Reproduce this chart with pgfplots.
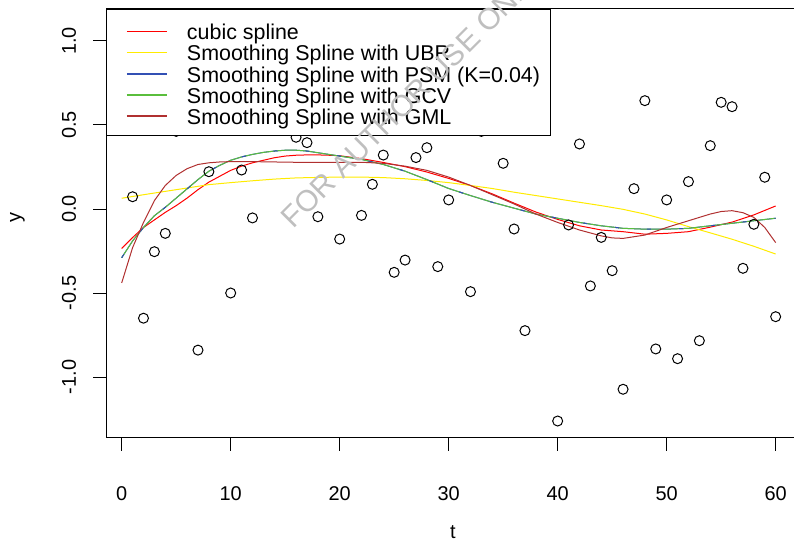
\documentclass[border=0pt]{standalone}
\usepackage{fontspec}
\setmainfont{Liberation Sans}
\usepackage{pgfplots}
\pgfplotsset{compat=1.18}
\definecolor{cgreen}{RGB}{90,190,60}
\definecolor{cblue}{RGB}{50,80,180}
\definecolor{cdred}{RGB}{176,48,48}
\definecolor{cyel}{RGB}{255,235,0}
\newcommand{\legline}[1]{\hspace*{10bp}\textcolor{#1}{\rule[7.5bp]{40bp}{1.6bp}}\hspace*{20bp}}
\begin{document}
\begin{tikzpicture}
\begin{axis}[
  scale only axis,
  width=700bp, height=428.7bp,
  xmin=-1.394, xmax=62.83,
  ymin=-1.3613, ymax=1.1905,
  axis line style={line width=1bp, black},
  tick align=outside,
  xtick pos=bottom, ytick pos=left,
  major tick length=13bp,
  tick style={line width=1bp, black},
  xtick={0,10,20,30,40,50,60},
  ytick={-1,-0.5,0,0.5,1},
  yticklabels={{-1.0},{-0.5},{0.0},{0.5},{1.0}},
  /pgf/number format/assume math mode=true,
  tick label style={font=\fontsize{20}{20}\selectfont},
  xticklabel style={yshift=-32bp},
  yticklabel style={rotate=90, anchor=south, yshift=14bp},
  xlabel={t},
  ylabel={y},
  label style={font=\fontsize{20}{20}\selectfont},
  xlabel style={at={(rel axis cs:0.495,0)}, anchor=center, yshift=-94.3bp},
  ylabel style={at={(rel axis cs:0,0.5125)}, anchor=center, rotate=0, yshift=89bp},
  legend cell align=left,
  legend image code/.code={},
  legend style={draw=black, fill=white, line width=1bp, at={(rel axis cs:0,1)}, anchor=north west,
    inner xsep=10bp, inner ysep=10bp, row sep=0pt, column sep=0pt,
    font=\fontsize{21.5}{21.5}\selectfont,
    nodes={inner sep=0pt, text height=20.3bp, text depth=0.9bp}},
]
% data points
\addplot[only marks, mark=o, mark size=5bp, mark options={line width=1bp, black}, forget plot] coordinates {
(1,0.073) (2,-0.65) (3,-0.254) (4,-0.145) (5,0.462) (7,-0.84) (8,0.222) (10,-0.50) (11,0.232) (12,-0.053)
(16,0.427) (17,0.395) (18,-0.046) (20,-0.179) (22,-0.038) (23,0.147) (24,0.321) (25,-0.377) (26,-0.304)
(27,0.306) (28,0.365) (29,-0.343) (30,0.054) (32,-0.492) (33,0.462) (35,0.272) (36,-0.119) (37,-0.724)
(40,-1.262) (41,-0.095) (42,0.387) (43,-0.458) (44,-0.169) (45,-0.367) (46,-1.073) (47,0.121) (48,0.645)
(49,-0.833) (50,0.054) (51,-0.891) (52,0.163) (53,-0.784) (54,0.377) (55,0.635) (56,0.609) (57,-0.353)
(58,-0.091) (59,0.189) (60,-0.641)
};
% cubic spline
\addplot[red, line width=1bp] coordinates {
(0,-0.235) (1,-0.17) (2,-0.11) (3,-0.065) (4,-0.02) (5,0.02) (6,0.065) (7,0.115) (8,0.16) (9,0.195)
(10,0.23) (11,0.255) (12,0.275) (13,0.29) (14,0.305) (15,0.315) (16,0.32) (17,0.322) (18,0.322) (19,0.32)
(20,0.317) (22,0.30) (24,0.277) (26,0.252) (28,0.22) (30,0.182) (32,0.14) (34,0.09) (36,0.035) (38,-0.018)
(40,-0.062) (42,-0.1) (44,-0.125) (46,-0.135) (48,-0.15) (50,-0.145) (52,-0.135) (54,-0.108) (56,-0.078)
(58,-0.035) (60,0.018)
};
\addlegendentry{\legline{red}cubic spline}
% UBR
\addplot[cyel, line width=1bp] coordinates {
(0,0.064) (2,0.085) (4,0.105) (6,0.125) (8,0.145) (10,0.157) (12,0.168) (14,0.178) (16,0.185) (18,0.188)
(20,0.19) (22,0.19) (24,0.187) (26,0.18) (28,0.17) (30,0.157) (32,0.14) (34,0.122) (36,0.10) (38,0.08)
(40,0.06) (42,0.04) (44,0.02) (46,-0.002) (48,-0.03) (50,-0.065) (52,-0.105) (54,-0.142) (56,-0.18)
(58,-0.222) (60,-0.268)
};
\addlegendentry{\legline{cyel}Smoothing Spline with UBR}
% PSM
\addplot[cblue, line width=1bp] coordinates {
(0,-0.29) (1,-0.19) (2,-0.11) (3,-0.04) (4,0.01) (5,0.065) (6,0.12) (7,0.175) (8,0.225) (9,0.26)
(10,0.29) (11,0.31) (12,0.325) (13,0.337) (14,0.345) (15,0.35) (16,0.35) (17,0.345) (18,0.335) (19,0.325)
(20,0.315) (22,0.295) (24,0.265) (26,0.225) (28,0.175) (30,0.122) (32,0.08) (34,0.04) (36,0.005)
(38,-0.03) (40,-0.055) (42,-0.08) (44,-0.10) (46,-0.115) (48,-0.12) (50,-0.12) (52,-0.115) (54,-0.10)
(56,-0.085) (58,-0.07) (60,-0.055)
};
\addlegendentry{\legline{cblue}Smoothing Spline with PSM (K=0.04)}
% GCV
\addplot[cgreen, line width=1bp] coordinates {
(0,-0.29) (1,-0.19) (2,-0.11) (3,-0.04) (4,0.01) (5,0.065) (6,0.12) (7,0.175) (8,0.225) (9,0.26)
(10,0.29) (11,0.31) (12,0.325) (13,0.337) (14,0.345) (15,0.35) (16,0.35) (17,0.345) (18,0.335) (19,0.325)
(20,0.315) (22,0.295) (24,0.265) (26,0.225) (28,0.175) (30,0.122) (32,0.08) (34,0.04) (36,0.005)
(38,-0.03) (40,-0.055) (42,-0.08) (44,-0.10) (46,-0.115) (48,-0.12) (50,-0.12) (52,-0.115) (54,-0.10)
(56,-0.085) (58,-0.07) (60,-0.055)
};
\addlegendentry{\legline{cgreen}Smoothing Spline with GCV}
% PSM peeking through
\addplot[cblue, line width=1bp, dash pattern=on 4bp off 28bp, forget plot] coordinates {
(0,-0.29) (1,-0.19) (2,-0.11) (3,-0.04) (4,0.01) (5,0.065) (6,0.12) (7,0.175) (8,0.225) (9,0.26)
(10,0.29) (11,0.31) (12,0.325) (13,0.337) (14,0.345) (15,0.35) (16,0.35) (17,0.345) (18,0.335) (19,0.325)
(20,0.315) (22,0.295) (24,0.265) (26,0.225) (28,0.175) (30,0.122) (32,0.08) (34,0.04) (36,0.005)
(38,-0.03) (40,-0.055) (42,-0.08) (44,-0.10) (46,-0.115) (48,-0.12) (50,-0.12) (52,-0.115) (54,-0.10)
(56,-0.085) (58,-0.07) (60,-0.055)
};
% GML
\addplot[cdred, line width=1bp] coordinates {
(0,-0.44) (1,-0.23) (2,-0.08) (3,0.05) (4,0.14) (5,0.20) (6,0.24) (7,0.265) (8,0.275) (9,0.28)
(10,0.282) (12,0.282) (14,0.28) (16,0.278) (18,0.278) (20,0.278) (22,0.278) (24,0.272) (26,0.255)
(28,0.23) (30,0.19) (32,0.14) (34,0.085) (36,0.03) (38,-0.03) (40,-0.08) (42,-0.125) (44,-0.16)
(45,-0.172) (46,-0.175) (48,-0.155) (50,-0.11) (52,-0.07) (54,-0.03) (55,-0.015) (56,-0.01) (57,-0.022)
(58,-0.05) (59,-0.11) (60,-0.2)
};
\addlegendentry{\legline{cdred}Smoothing Spline with GML}
\end{axis}
\node[rotate=45, anchor=base west, inner sep=0pt, text=black!25, font=\fontsize{30}{30}\selectfont]
  at ([shift={(186.5bp,-221bp)}]current axis.north west) {FOR AUTHOR USE ONLY};
\pgfresetboundingbox
\path[use as bounding box] ([shift={(-106.5bp,-105.3bp)}]current axis.south west) rectangle ([shift={(687.5bp,9bp)}]current axis.north west);
\end{tikzpicture}
\end{document}
